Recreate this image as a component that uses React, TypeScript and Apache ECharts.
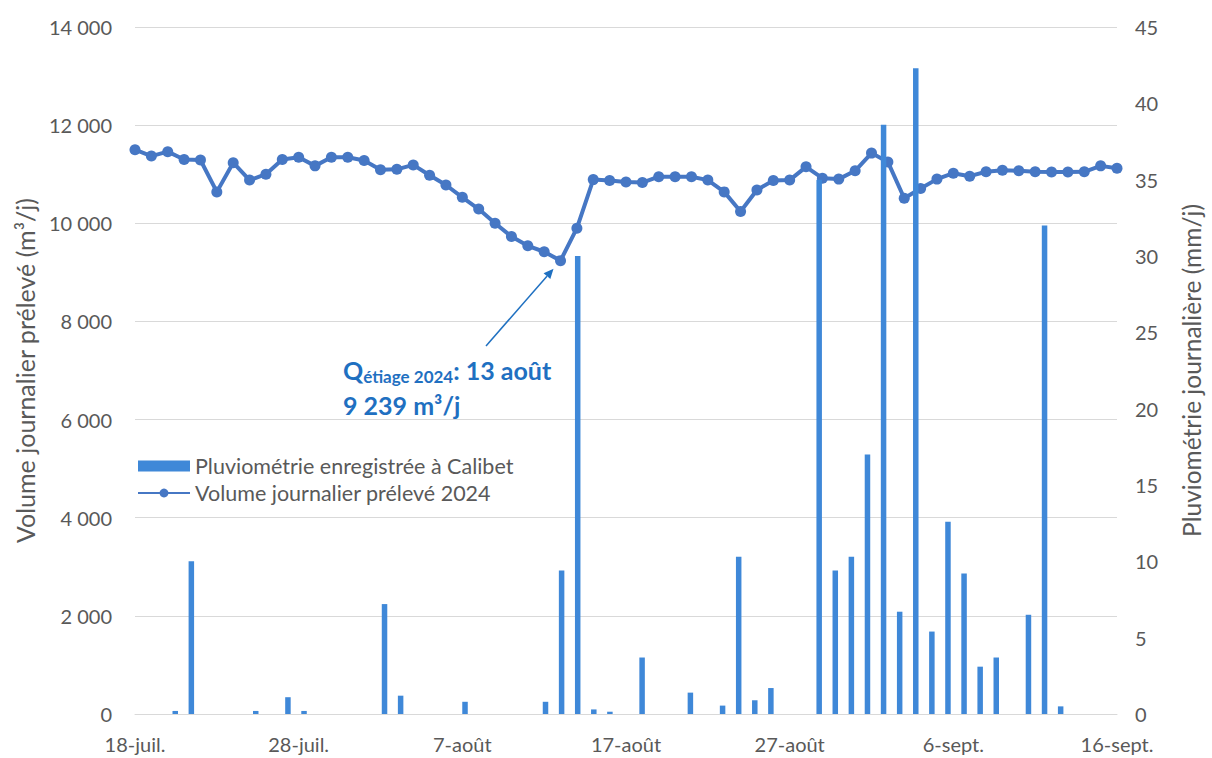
import React, { useEffect, useRef } from 'react';
import * as echarts from 'echarts';

const dates = [
  '18-juil.', '19-juil.', '20-juil.', '21-juil.', '22-juil.', '23-juil.', '24-juil.', '25-juil.', '26-juil.', '27-juil.',
  '28-juil.', '29-juil.', '30-juil.', '31-juil.', '1-août', '2-août', '3-août', '4-août', '5-août', '6-août',
  '7-août', '8-août', '9-août', '10-août', '11-août', '12-août', '13-août', '14-août', '15-août', '16-août',
  '17-août', '18-août', '19-août', '20-août', '21-août', '22-août', '23-août', '24-août', '25-août', '26-août',
  '27-août', '28-août', '29-août', '30-août', '31-août', '1-sept.', '2-sept.', '3-sept.', '4-sept.', '5-sept.',
  '6-sept.', '7-sept.', '8-sept.', '9-sept.', '10-sept.', '11-sept.', '12-sept.', '13-sept.', '14-sept.', '15-sept.',
  '16-sept.',
];

// Volume journalier prélevé 2024 (m3/j)
const volume = [
  11500, 11370, 11460, 11300, 11290, 10640, 11235, 10880, 11000, 11300,
  11345, 11170, 11345, 11345, 11280, 11090, 11100, 11190, 10980, 10780,
  10530, 10290, 10000, 9730, 9540, 9420, 9239, 9900, 10890, 10870,
  10840, 10830, 10950, 10950, 10950, 10880, 10640, 10240, 10680, 10870,
  10880, 11150, 10920, 10900, 11070, 11430, 11250, 10510, 10710, 10900,
  11020, 10960, 11050, 11080, 11070, 11050, 11045, 11045, 11050, 11170,
  11120,
];

// Pluviométrie enregistrée à Calibet (mm/j)
const pluvio = [
  0, 0, 0.2, 10.0, 0, 0, 0, 0.2, 0, 1.1,
  0.2, 0, 0, 0, 0, 7.2, 1.2, 0, 0, 0,
  0.8, 0, 0, 0, 0, 0.8, 9.4, 30.0, 0.3, 0.15,
  0, 3.7, 0, 0, 1.4, 0, 0.55, 10.3, 0.9, 1.7,
  0, 0, 35.0, 9.4, 10.3, 17.0, 38.6, 6.7, 42.3, 5.4,
  12.6, 9.2, 3.1, 3.7, 0, 6.5, 32.0, 0.5, 0, 0,
  0,
];

const minIndex = 26;
const minValue = 9239;

const FONT = 'Lato';
const GREY = '#595959';
const GRID = '#d9d9d9';
const BAR = '#3f88d8';
const LINE = '#4677c4';
const ANNOT = '#1f70c1';

const fmt = (v: number) => String(v).replace(/\B(?=(\d{3})+(?!\d))/g, ' ');

export default function App() {
  const ref = useRef<HTMLDivElement>(null);
  useEffect(() => {
    const chart = echarts.init(ref.current!, null, { renderer: 'svg' });
    chart.setOption({
      animation: false,
      backgroundColor: '#ffffff',
      textStyle: { fontFamily: FONT },
      grid: { left: 135, right: 94, top: 27, bottom: 44, containLabel: false },
      legend: {
        orient: 'vertical',
        left: 137,
        top: 455,
        padding: 0,
        itemWidth: 52,
        itemHeight: 11,
        itemGap: 5,
        textStyle: { fontSize: 21.5, lineHeight: 21, color: GREY, fontFamily: FONT },
        data: [
          { name: 'Pluviométrie enregistrée à Calibet', icon: 'rect' },
          { name: 'Volume journalier prélevé 2024' },
        ],
      },
      xAxis: [
        {
          type: 'category',
          data: dates,
          boundaryGap: false,
          axisLine: { lineStyle: { color: GRID, width: 1 } },
          axisTick: { show: false },
          axisLabel: { interval: 9, fontSize: 20, color: GREY, margin: 20, fontFamily: FONT },
          splitLine: { show: false },
        },
        {
          type: 'category',
          data: dates,
          boundaryGap: true,
          show: false,
        },
      ],
      yAxis: [
        {
          type: 'value',
          min: 0,
          max: 14000,
          interval: 2000,
          axisLine: { show: false },
          axisTick: { show: false },
          splitLine: { lineStyle: { color: GRID, width: 1 } },
          axisLabel: { formatter: fmt, fontSize: 20, color: GREY, margin: 23, fontFamily: FONT },
          name: 'Volume journalier prélevé (m³/j)',
          nameLocation: 'middle',
          nameRotate: 90,
          nameGap: 97,
          nameTextStyle: { fontSize: 25, color: GREY, fontFamily: FONT },
        },
        {
          type: 'value',
          position: 'right',
          min: 0,
          max: 45,
          interval: 5,
          axisLine: { show: false },
          axisTick: { show: false },
          splitLine: { show: false },
          axisLabel: { fontSize: 20, color: GREY, margin: 18, fontFamily: FONT },
          name: 'Pluviométrie journalière (mm/j)',
          nameLocation: 'middle',
          nameRotate: 90,
          nameGap: 62,
          nameTextStyle: { fontSize: 24.5, color: GREY, fontFamily: FONT },
        },
      ],
      series: [
        {
          name: 'Pluviométrie enregistrée à Calibet',
          type: 'bar',
          xAxisIndex: 1,
          yAxisIndex: 1,
          data: pluvio,
          barWidth: 5.5,
          itemStyle: { color: BAR },
          z: 3,
        },
        {
          name: 'Volume journalier prélevé 2024',
          type: 'line',
          xAxisIndex: 0,
          yAxisIndex: 0,
          data: volume,
          symbol: 'circle',
          symbolSize: 11,
          showSymbol: true,
          showAllSymbol: true,
          lineStyle: { color: LINE, width: 4 },
          itemStyle: { color: LINE },
          z: 2,
        },
      ],
    });

    const p = chart.convertToPixel({ seriesIndex: 1 }, [minIndex, minValue]) as number[];
    const end = [p[0] - 7, p[1] + 8];
    const start = [486, 346];
    const dx = end[0] - start[0];
    const dy = end[1] - start[1];
    const len = Math.sqrt(dx * dx + dy * dy);
    const ux = dx / len;
    const uy = dy / len;
    const hl = 10;
    const hw = 4.5;
    const bx = end[0] - ux * hl;
    const by = end[1] - uy * hl;
    const head = [
      [end[0], end[1]],
      [bx - uy * hw, by + ux * hw],
      [bx + uy * hw, by - ux * hw],
    ];

    chart.setOption({
      graphic: [
        {
          type: 'line',
          shape: { x1: start[0], y1: start[1], x2: bx, y2: by },
          style: { stroke: ANNOT, lineWidth: 1.5 },
          z: 100,
        },
        {
          type: 'polygon',
          shape: { points: head },
          style: { fill: ANNOT },
          z: 100,
        },
        {
          type: 'text',
          x: 343,
          y: 355,
          style: {
            text: '{q|Q}{s|étiage 2024}{q|: 13 août}',
            fill: ANNOT,
            rich: {
              q: { fontSize: 25, fontWeight: 'bold', fontFamily: FONT, fill: ANNOT, lineHeight: 30, verticalAlign: 'middle' },
              s: { fontSize: 17, fontWeight: 'bold', fontFamily: FONT, fill: ANNOT, lineHeight: 12, verticalAlign: 'bottom' },
            },
          },
          z: 100,
        },
        {
          type: 'text',
          x: 343,
          y: 405,
          style: { text: '9 239 m³/j', fill: ANNOT, font: `bold 25px ${FONT}`, verticalAlign: 'middle' },
          z: 100,
        },
      ],
    });

    return () => chart.dispose();
  }, []);
  return (
    <div
      ref={ref}
      style={{ position: 'fixed', left: 0, top: 0, width: 1212, height: 758, background: '#fff' }}
    />
  );
}
